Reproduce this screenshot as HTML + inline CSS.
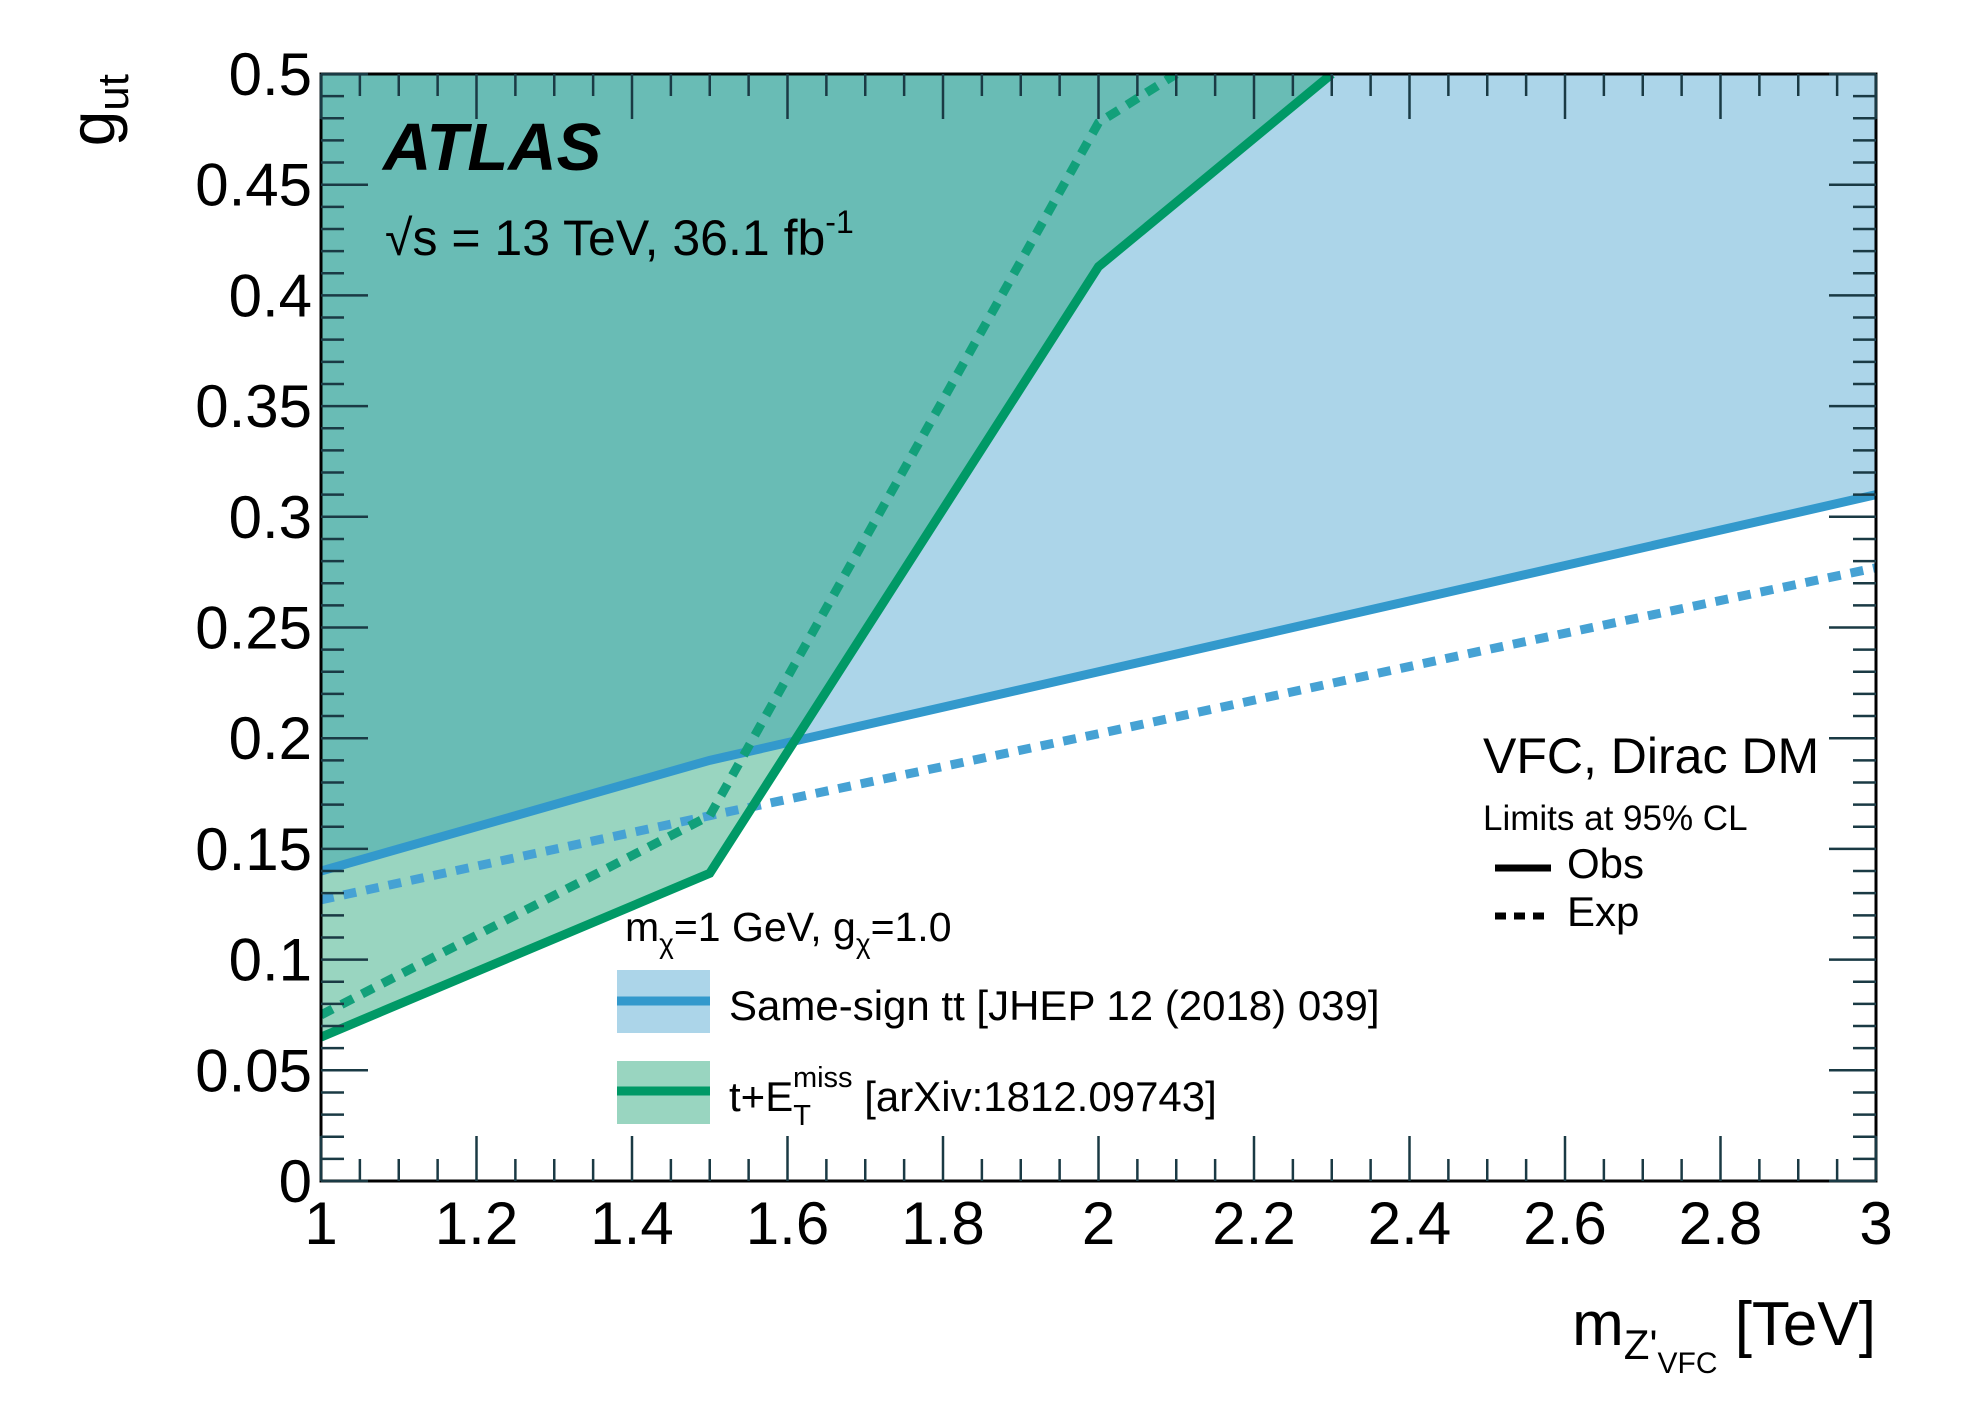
<!DOCTYPE html>
<html><head><meta charset="utf-8"><style>
html,body{margin:0;padding:0;background:#fff}
svg{display:block}
text{font-family:"Liberation Sans",sans-serif;fill:#000}
</style></head><body>
<svg id="chart" width="1981" height="1410" viewBox="0 0 1981 1410" xmlns="http://www.w3.org/2000/svg">
<defs>
 <clipPath id="plotclip"><rect x="321" y="74" width="1555" height="1107"/></clipPath>
 <clipPath id="greenclip"><polygon id="gclipPoly" points=""/></clipPath>
</defs>
<g id="fills" clip-path="url(#plotclip)"></g>
<g id="lines" clip-path="url(#plotclip)"></g>
<g id="axes"></g>
<text x="383" y="170" font-size="67" font-weight="bold" font-style="italic">ATLAS</text>
<text x="385" y="255" font-size="50">√s = 13 TeV, 36.1 fb<tspan dy="-22" font-size="32">-1</tspan></text>
<text x="1483" y="773" font-size="50">VFC, Dirac DM</text>
<text x="1483" y="830" font-size="35">Limits at 95% CL</text>
<line x1="1495" y1="868" x2="1551" y2="868" stroke="#000" stroke-width="7"/>
<text x="1567" y="878" font-size="42">Obs</text>
<line x1="1495" y1="916" x2="1551" y2="916" stroke="#000" stroke-width="7" stroke-dasharray="11,8"/>
<text x="1567" y="926" font-size="42">Exp</text>
<text x="625" y="941" font-size="41">m<tspan dy="12" font-size="28">χ</tspan><tspan dy="-12">=1 GeV, g</tspan><tspan dy="12" font-size="28">χ</tspan><tspan dy="-12">=1.0</tspan></text>
<g>
 <rect x="617" y="970" width="93" height="63" fill="#acd5e9"/>
 <line x1="617" y1="1001" x2="710" y2="1001" stroke="#3399cc" stroke-width="9"/>
 <text x="729" y="1020" font-size="42">Same-sign tt [JHEP 12 (2018) 039]</text>
</g>
<g>
 <rect x="617" y="1061" width="93" height="63" fill="#99d5c0"/>
 <line x1="617" y1="1091" x2="710" y2="1091" stroke="#009966" stroke-width="9"/>
 <text x="729" y="1111" font-size="42">t+E<tspan dy="14" font-size="29">T</tspan><tspan dx="-18" dy="-38" font-size="29">miss</tspan><tspan dy="24"> [arXiv:1812.09743]</tspan></text>
</g>
<text x="1876" y="1345" font-size="62" text-anchor="end">m<tspan dy="14" font-size="42">Z'</tspan><tspan dy="14" font-size="30">VFC</tspan><tspan dy="-28"> [TeV]</tspan></text>
<text transform="translate(114,74) rotate(-90)" font-size="64" text-anchor="end">g<tspan dy="14" font-size="44">ut</tspan></text>
</svg>
<script>
const massPoints = [1.0, 1.5, 2.0, 2.5, 3.0];
const sameSignObs = [0.14, 0.19, 0.23, 0.27, 0.31];
const sameSignExp = [0.127, 0.165, 0.202, 0.24, 0.277];
const tmetMass = [1.0, 1.5, 2.0, 2.3];
const tmetObs = [0.065, 0.139, 0.413, 0.5];
const tmetExpMass = [1.0, 1.5, 2.0, 2.1];
const tmetExp = [0.075, 0.165, 0.478, 0.5];
const xTicks = [1, 1.2, 1.4, 1.6, 1.8, 2, 2.2, 2.4, 2.6, 2.8, 3];
const xTickLabels = ["1","1.2","1.4","1.6","1.8","2","2.2","2.4","2.6","2.8","3"];
const yTicks = [0, 0.05, 0.1, 0.15, 0.2, 0.25, 0.3, 0.35, 0.4, 0.45, 0.5];
const yTickLabels = ["0","0.05","0.1","0.15","0.2","0.25","0.3","0.35","0.4","0.45","0.5"];

const L=321,R=1876,T=74,B=1181;
const X0=1,X1=3,Y0=0,Y1=0.5;
function sx(v){return L+(v-X0)/(X1-X0)*(R-L);}
function sy(v){return B-(v-Y0)/(Y1-Y0)*(B-T);}
const NS="http://www.w3.org/2000/svg";
function mk(tag,attrs,parent){const e=document.createElementNS(NS,tag);for(const k in attrs)e.setAttribute(k,attrs[k]);parent.appendChild(e);return e;}
function pts(xs,ys){return xs.map((x,i)=>sx(x)+","+sy(ys[i])).join(" ");}
const fills=document.getElementById('fills'), lines=document.getElementById('lines'), axes=document.getElementById('axes');

const bluePoly=pts(massPoints,sameSignObs)+" "+sx(X1)+","+(T-20)+" "+sx(X0)+","+(T-20);
const greenPoly=pts(tmetMass,tmetObs)+" "+sx(tmetMass[tmetMass.length-1])+","+(T-20)+" "+sx(X0)+","+(T-20);
document.getElementById('gclipPoly').setAttribute('points',greenPoly);
let e;
e=mk('polygon',{points:bluePoly,fill:'#acd5e9'},fills);


e=mk('polygon',{points:greenPoly,fill:'#99d5c0'},fills);


e=mk('polygon',{points:bluePoly,fill:'#69bcb5','clip-path':'url(#greenclip)'},fills);



e=mk('polyline',{points:pts(massPoints,sameSignExp),fill:'none',stroke:'#46a2d4','stroke-width':9,'stroke-dasharray':'13,10'},lines);


e=mk('polyline',{points:pts(massPoints,sameSignObs),fill:'none',stroke:'#3399cc','stroke-width':9},lines);


e=mk('polyline',{points:pts(tmetExpMass,tmetExp),fill:'none',stroke:'#12a07a','stroke-width':9,'stroke-dasharray':'13,10'},lines);


e=mk('polyline',{points:pts(tmetMass,tmetObs),fill:'none',stroke:'#009966','stroke-width':9},lines);



const tc='#1a3a44';
e=mk('rect',{x:L,y:T,width:R-L,height:B-T,fill:'none',stroke:'#000','stroke-width':3},axes);


for(let i=0;i<=40;i++){const v=X0+i*0.05;const major=(i%4===0);const len=major?45:22;const x=sx(v);
 mk('line',{x1:x,y1:B,x2:x,y2:B-len,stroke:tc,'stroke-width':2.5},axes);
 mk('line',{x1:x,y1:T,x2:x,y2:T+len,stroke:tc,'stroke-width':2.5},axes);}
for(let i=0;i<=50;i++){const v=i*0.01;const major=(i%5===0);const len=major?47:23;const y=sy(v);
 mk('line',{x1:L,y1:y,x2:L+len,y2:y,stroke:tc,'stroke-width':2.5},axes);
 mk('line',{x1:R,y1:y,x2:R-len,y2:y,stroke:tc,'stroke-width':2.5},axes);}
xTicks.forEach((v,i)=>{const t=mk('text',{x:sx(v),y:1244,'font-size':60,'text-anchor':'middle'},axes);t.textContent=xTickLabels[i];
 
 });
yTicks.forEach((v,i)=>{const t=mk('text',{x:312,y:sy(v)+21,'font-size':60,'text-anchor':'end'},axes);t.textContent=yTickLabels[i];
 
 });
</script>
</body></html>
